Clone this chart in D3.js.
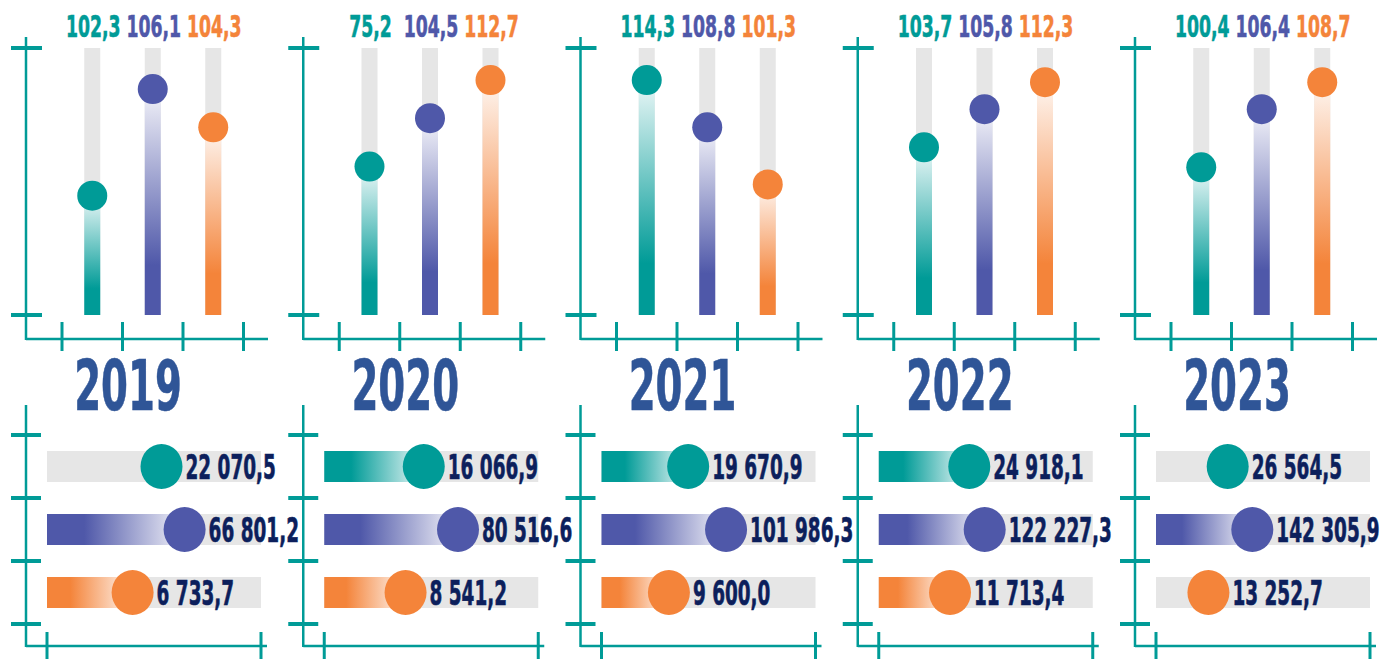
<!DOCTYPE html>
<html lang="ru">
<head>
<meta charset="utf-8">
<title>2019–2023</title>
<script src="https://cdn.jsdelivr.net/npm/d3@7"></script>
<style>
  html, body { margin: 0; padding: 0; background: #fff; }
  svg { display: block; }
  text { font-family: "Liberation Sans Narrow", "DejaVu Sans Condensed", "Arial Narrow", sans-serif; font-weight: bold; }
</style>
</head>
<body>
<div id="chart"></div>
<script>
// years and series
var years = ["2019", "2020", "2021", "2022", "2023"];
var seriesKeys = ["s1", "s2", "s3"];
var seriesColors = ["#009b97", "#4f58a9", "#f4843a"];

// upper block: index values (labels) and where each dot sits on its gauge, % of gauge height
var indexS1 = [102.3, 75.2, 114.3, 103.7, 100.4];
var indexS2 = [106.1, 104.5, 108.8, 105.8, 106.4];
var indexS3 = [104.3, 112.7, 101.3, 112.3, 108.7];
var indexLevelS1 = [44.7, 55.6, 88.0, 62.8, 55.3];
var indexLevelS2 = [84.6, 73.7, 70.3, 77.1, 77.1];
var indexLevelS3 = [70.3, 88.0, 48.9, 87.2, 87.2];

// lower block: amounts (labels) and dot position along the bar, % of bar length
var amountS1 = [22070.5, 16066.9, 19670.9, 24918.1, 26564.5];
var amountS2 = [66801.2, 80516.6, 101986.3, 122227.3, 142305.9];
var amountS3 = [6733.7, 8541.2, 9600.0, 11713.4, 13252.7];
var amountLevelS1 = [53.5, 46.5, 40.5, 42.3, 33.5];
var amountLevelS2 = [64.3, 62.5, 58.2, 49.5, 45.0];
var amountLevelS3 = [40.0, 38.0, 31.5, 33.3, 24.5];
// bars in the lower block that carry a coloured fill up to the dot (1) or only the grey track (0)
var amountFillS1 = [0, 1, 1, 1, 0];
var amountFillS2 = [1, 1, 1, 1, 1];
var amountFillS3 = [1, 1, 1, 1, 0];

var w = 1383, h = 659;
var axisColor = "#009b97";
var trackColor = "#e6e6e6";

var ru = d3.formatLocale({decimal: ",", thousands: " ", grouping: [3], currency: ["", ""]});
var fmt = ru.format(",.1f");

var indexTable = [indexS1, indexS2, indexS3];
var indexLevels = [indexLevelS1, indexLevelS2, indexLevelS3];
var amountTable = [amountS1, amountS2, amountS3];
var amountLevels = [amountLevelS1, amountLevelS2, amountLevelS3];
var amountFills = [amountFillS1, amountFillS2, amountFillS3];

var svg = d3.select("#chart").append("svg")
  .attr("width", w)
  .attr("height", h);

var defs = svg.append("defs");
seriesKeys.forEach(function(k, i) {
  var c = seriesColors[i];
  var pale = d3.interpolateRgb(c, "#ffffff")(0.93);
  var gv = defs.append("linearGradient")
    .attr("id", "gv-" + k)
    .attr("x1", 0).attr("y1", 1).attr("x2", 0).attr("y2", 0);
  gv.append("stop").attr("offset", "0%").attr("stop-color", c);
  gv.append("stop").attr("offset", "22%").attr("stop-color", c);
  gv.append("stop").attr("offset", "100%").attr("stop-color", pale);

  var gh = defs.append("linearGradient")
    .attr("id", "gh-" + k)
    .attr("x1", 0).attr("y1", 0).attr("x2", 1).attr("y2", 0);
  gh.append("stop").attr("offset", "0%").attr("stop-color", c);
  gh.append("stop").attr("offset", "27%").attr("stop-color", c);
  gh.append("stop").attr("offset", "100%").attr("stop-color", pale);
});

// one panel per year
var panelX = d3.scalePoint().domain(years).range([26, 1135]);

// upper block scales
var yTop = d3.scaleLinear().domain([0, 100]).range([315, 48]);
// lower block scales
var yBottom = d3.scaleBand().domain(seriesKeys).range([435, 624]);

// the original uses a very narrow display face; squeeze whatever font we get
// to roughly 0.39em per digit, 0.2em per space or comma
function condensedText(g, x, y, str, size, color, anchor) {
  var t = g.append("g")
    .attr("transform", "translate(" + x + "," + y + ")")
    .append("text")
    .attr("text-anchor", anchor)
    .attr("font-size", size)
    .attr("fill", color)
    .attr("stroke", color)
    .attr("stroke-width", 0.6)
    .text(str);
  var digits = str.replace(/[^0-9]/g, "").length;
  var seps = str.length - digits;
  var target = size * (0.39 * digits + 0.2 * seps);
  var natural = t.node().getComputedTextLength();
  t.attr("transform", "scale(" + (target / natural) + ",1)");
}

years.forEach(function(year, yi) {
  var ax = panelX(year);
  var g = svg.append("g").attr("class", "panel");

  var xTop = d3.scaleBand().domain(seriesKeys).range([ax + 36, ax + 217.5]);
  var xBottom = d3.scaleLinear().domain([0, 100]).range([ax + 21, ax + 235]);

  // ---- upper axes
  g.append("line")
    .attr("x1", ax).attr("x2", ax).attr("y1", 37).attr("y2", 340)
    .attr("stroke", axisColor).attr("stroke-width", 2.5);
  g.append("line")
    .attr("x1", ax).attr("x2", ax + 242).attr("y1", 339).attr("y2", 339)
    .attr("stroke", axisColor).attr("stroke-width", 2.5);
  [0, 100].forEach(function(v) {
    g.append("line")
      .attr("x1", ax - 15).attr("x2", ax + 16)
      .attr("y1", yTop(v)).attr("y2", yTop(v))
      .attr("stroke", axisColor).attr("stroke-width", 4);
  });
  var edges = seriesKeys.map(function(k) { return xTop(k); }).concat([xTop.range()[1]]);
  edges.forEach(function(x) {
    g.append("line")
      .attr("x1", x).attr("x2", x).attr("y1", 322).attr("y2", 351)
      .attr("stroke", axisColor).attr("stroke-width", 3);
  });

  // ---- upper gauges
  seriesKeys.forEach(function(k, si) {
    var cx = xTop(k) + xTop.bandwidth() / 2;
    var bw = 16;
    var level = indexLevels[si][yi];
    g.append("rect")
      .attr("x", cx - bw / 2).attr("y", yTop(100))
      .attr("width", bw).attr("height", yTop(0) - yTop(100))
      .attr("fill", trackColor);
    g.append("rect")
      .attr("x", cx - bw / 2).attr("y", yTop(level))
      .attr("width", bw).attr("height", yTop(0) - yTop(level))
      .attr("fill", "url(#gv-" + k + ")");
    g.append("circle")
      .attr("cx", cx).attr("cy", yTop(level)).attr("r", 15)
      .attr("fill", seriesColors[si]);
    condensedText(g, cx + 1, 37, fmt(indexTable[si][yi]), 31, seriesColors[si], "middle");
  });

  // ---- year
  condensedText(g, ax + 102, 410, year, 69, "#2f5597", "middle");

  // ---- lower axes
  g.append("line")
    .attr("x1", ax).attr("x2", ax).attr("y1", 405).attr("y2", 647)
    .attr("stroke", axisColor).attr("stroke-width", 2.5);
  g.append("line")
    .attr("x1", ax).attr("x2", ax + 241).attr("y1", 646).attr("y2", 646)
    .attr("stroke", axisColor).attr("stroke-width", 2.5);
  var bEdges = seriesKeys.map(function(k) { return yBottom(k); }).concat([yBottom.range()[1]]);
  bEdges.forEach(function(y) {
    g.append("line")
      .attr("x1", ax - 15).attr("x2", ax + 15).attr("y1", y).attr("y2", y)
      .attr("stroke", axisColor).attr("stroke-width", 4);
  });
  [0, 100].forEach(function(v) {
    g.append("line")
      .attr("x1", xBottom(v)).attr("x2", xBottom(v)).attr("y1", 632).attr("y2", 659)
      .attr("stroke", axisColor).attr("stroke-width", 3);
  });

  // ---- lower bars
  seriesKeys.forEach(function(k, si) {
    var cy = yBottom(k) + yBottom.bandwidth() / 2;
    var bh = 31;
    var level = amountLevels[si][yi];
    var dx = xBottom(level);
    g.append("rect")
      .attr("x", xBottom(0)).attr("y", cy - bh / 2)
      .attr("width", xBottom(100) - xBottom(0)).attr("height", bh)
      .attr("fill", trackColor);
    if (amountFills[si][yi]) {
      g.append("rect")
        .attr("x", xBottom(0)).attr("y", cy - bh / 2)
        .attr("width", dx - xBottom(0)).attr("height", bh)
        .attr("fill", "url(#gh-" + k + ")");
    }
    g.append("ellipse")
      .attr("cx", dx).attr("cy", cy).attr("rx", 21).attr("ry", 22.5)
      .attr("fill", seriesColors[si]);
    condensedText(g, dx + 24, cy + 12, fmt(amountTable[si][yi]), 33, "#0c1f5c", "start");
  });
});
</script>
</body>
</html>
